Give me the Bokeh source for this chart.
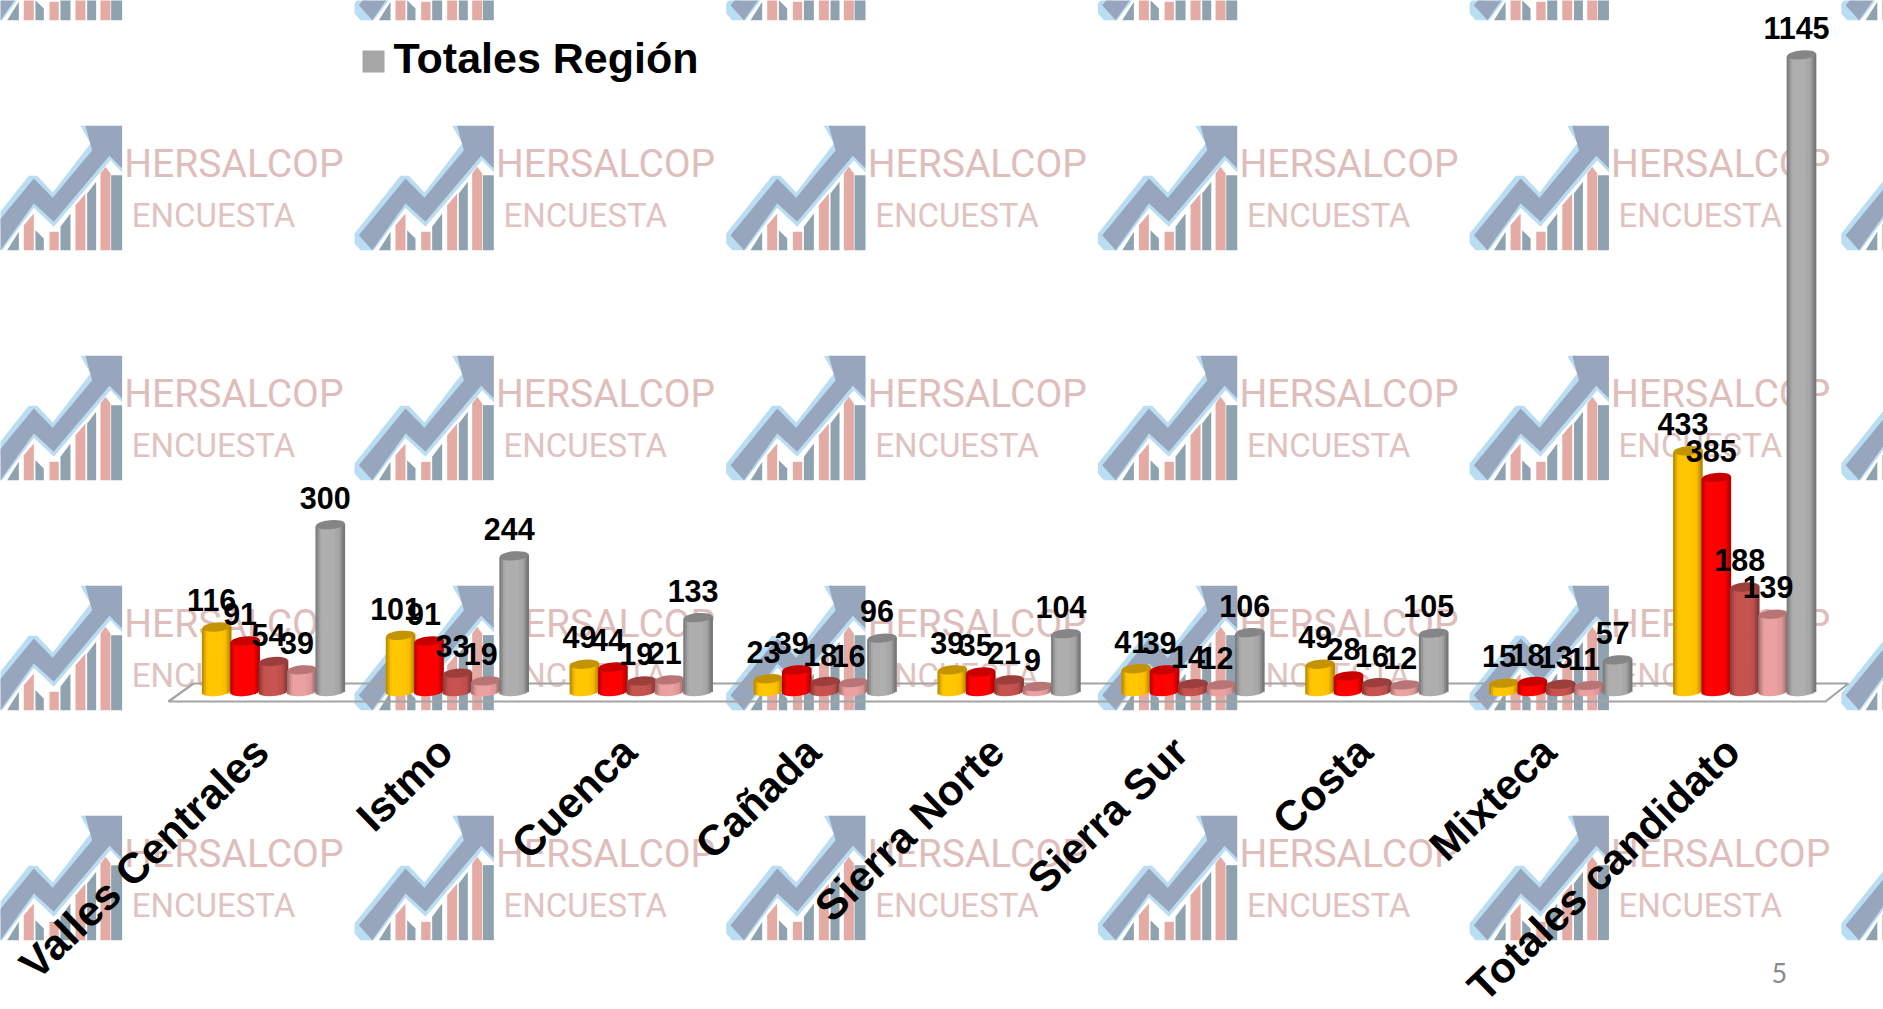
from bokeh.plotting import figure
from bokeh.embed import file_html
from bokeh.resources import INLINE
from bokeh.models import Range1d, LinearAxis, FixedTicker
from bokeh.core.properties import value
import math

categories = ["Valles Centrales", "Istmo", "Cuenca", "Cañada", "Sierra Norte",
              "Sierra Sur", "Costa", "Mixteca", "Totales candidato"]
serie_oro = [116, 101, 49, 23, 39, 41, 49, 15, 433]
serie_roja = [91, 91, 44, 39, 35, 39, 28, 18, 385]
serie_vino = [54, 33, 19, 18, 21, 14, 16, 13, 188]
serie_rosa = [39, 19, 21, 16, 9, 12, 12, 11, 139]
totales_region = [300, 244, 133, 96, 104, 106, 105, 57, 1145]
legend_label = "Totales Región"
page_number = "5"
watermark_lines = ["HERSALCOP", "ENCUESTA"]

series = [
    (serie_oro, (255, 192, 0), "#C49400"),
    (serie_roja, (255, 0, 0), "#C80000"),
    (serie_vino, (192, 80, 77), "#9C3F3C"),
    (serie_rosa, (226, 154, 155), "#B97576"),
    (totales_region, (168, 168, 168), "#858585"),
]

# layout (page pixels)
W, H = 1883, 1009
LEFT, TOP = 0, 0
X0, GROUP = 273.0, 183.9       # px of group centre 0, px per group
Y0, SCALE = 691.0, 0.556       # px of value 0, px per unit
STEP = 28.4 / GROUP            # bar spacing, in group units
BAR_PX = 29.0
RX = 14.5
RY = 4.5
TILT = 0.09
N_STRIPS = 15
BASE = 0.36                    # em correction of the text baseline

def shade(rgb, u):
    f = 0.66 + 0.34 * min(1.0, (1 - abs(u)) * 2.6)
    f = f * (1.04 if u < 0.35 else 1.0)
    return "#%02x%02x%02x" % tuple(min(255, int(c * f)) for c in rgb)

p = figure(width=W, height=H, output_backend="svg", toolbar_location=None,
           x_range=Range1d((LEFT - X0) / GROUP, (LEFT + W - X0) / GROUP),
           y_range=Range1d((Y0 - (TOP + H)) / SCALE, (Y0 - TOP) / SCALE),
           min_border=0, min_border_left=0, min_border_right=0,
           min_border_top=0, min_border_bottom=0,
           background_fill_color="white", border_fill_color="white",
           outline_line_color=None)
p.grid.visible = False
p.axis.visible = False
p.extra_x_ranges["px"] = Range1d(LEFT, LEFT + W)
p.extra_y_ranges["px"] = Range1d(TOP + H, TOP)
LABEL_SHIFT = 12 / GROUP
p.extra_x_ranges["cat"] = Range1d((LEFT - X0) / GROUP + LABEL_SHIFT, (LEFT + W - X0) / GROUP + LABEL_SHIFT)

# ---------- watermark tiles (logo + text), pixel coordinates ----------
BAND = [(25,350),(165,180),(222,238),(340,95),(320,22),(430,22),(430,150),(392,112),(225,310),(165,255),(65,395)]
EDGE = [(12,345),(150,172),(175,172),(222,222),(335,75),(305,22),(330,22),(360,70),(225,240),(170,195),(35,360),(65,395),(30,395),(12,375)]
EDGE2 = [(160,250),(225,308),(392,105),(430,150),(430,162),(395,125),(225,325),(165,268),(70,395),(60,395)]
SLATE = [[(85,395),(120,340),(120,395)], [(170,335),(195,360),(195,395),(170,395)],
         [(245,325),(275,285),(275,395),(245,395)], [(325,225),(352,190),(352,395),(325,395)],
         [(397,170),(430,170),(430,395),(397,395)]]
PINK = [[(135,320),(165,285),(165,395),(135,395)], [(212,340),(240,340),(240,395),(212,395)],
        [(290,260),(320,225),(320,395),(290,395)], [(365,165),(380,145),(395,165),(395,395),(365,395)]]
def tile_polys(polys, dx, dy):
    xs = [[350 + a / 3 + dx for a, _ in poly] for poly in polys]
    ys = [[118 + b / 3 + dy for _, b in poly] for poly in polys]
    return xs, ys

offs = [(k * 371.7, r * 230.0) for k in range(-1, 5) for r in range(-1, 4)]
for polys, col in (([EDGE, EDGE2], "#B9DDF2"), ([BAND], "#98A6BD"),
                   (SLATE, "#8FA2B0"), (PINK, "#E4ABA5")):
    X, Y = [], []
    for dx, dy in offs:
        a, b = tile_polys(polys, dx, dy)
        X += a; Y += b
    p.patches(X, Y, fill_color=col, line_color=None,
              x_range_name="px", y_range_name="px")
text_offs = [(k * 371.7, r * 230.0) for k in range(-1, 4) for r in range(0, 4)]
p.text([495.5 + dx for dx, _ in text_offs], [178 - BASE * 39 + dy for _, dy in text_offs],
       text=[watermark_lines[0]] * len(text_offs), text_font=value("Roboto"),
       text_font_size="39px", text_color="#DEBDBB", text_baseline="alphabetic",
       x_range_name="px", y_range_name="px")
p.text([503 + dx for dx, _ in text_offs], [227 - BASE * 33 + dy for _, dy in text_offs],
       text=[watermark_lines[1]] * len(text_offs), text_font=value("Roboto"),
       text_font_size="33px", text_color="#E0C3C1", text_baseline="alphabetic",
       x_range_name="px", y_range_name="px")

# ---------- floor ----------
p.line([193, 1848, 1825, 168, 193], [683, 683, 701, 701, 683], line_color="#A3A3A3",
       line_width=2.2, x_range_name="px", y_range_name="px")

# ---------- cylinders ----------
for j, (vals, rgb, top_col) in enumerate(series):
    xs, tops, bots, cols = [], [], [], []
    for i, v in enumerate(vals):
        cx = i + (j - 2) * STEP
        for s in range(N_STRIPS):
            u = -1 + (s + 0.5) * 2 / N_STRIPS
            xs.append(cx + u * RX / GROUP)
            tilt = TILT * u * RX / SCALE
            tops.append(v + tilt)
            bots.append(tilt - RY * math.sqrt(1 - u * u) / SCALE)
            cols.append(shade(rgb, u))
    p.vbar(x=xs, top=tops, bottom=bots, width=(BAR_PX / N_STRIPS + 0.7) / GROUP,
           fill_color=cols, line_color=None)
    cxs = [i + (j - 2) * STEP for i in range(len(vals))]
    p.ellipse(x=cxs, y=vals, width=BAR_PX, height=2 * RY, angle=TILT,
              width_units="screen", height_units="screen", angle_units="rad",
              fill_color=top_col, line_color=None)

# ---------- data labels ----------
for j, (vals, rgb, top_col) in enumerate(series):
    p.text(x=[i + (j - 2) * STEP for i in range(len(vals))], y=vals,
           text=[str(v) for v in vals], x_offset=-5, y_offset=-16 - BASE * 30,
           text_align="center", text_baseline="alphabetic",
           text_font=value("Liberation Sans"), text_font_style="bold",
           text_font_size="30.5px", text_color="black")

# ---------- legend (only the last entry is visible) ----------
p.quad(left=[362], right=[384], top=[50], bottom=[72], fill_color="#A6A6A6", line_color=None,
       x_range_name="px", y_range_name="px")
p.text([393], [73 - BASE * 43], text=[legend_label], text_font=value("Liberation Sans"), text_font_style="bold",
       text_font_size="43px", text_color="black", text_baseline="alphabetic",
       x_range_name="px", y_range_name="px")

# ---------- page number ----------
p.text([1771], [982 - BASE * 27], text=[page_number], text_font=value("Lato"), text_font_size="27px",
       text_color="#8A8A8A", text_baseline="alphabetic", x_range_name="px", y_range_name="px")

# ---------- category axis ----------
ax = LinearAxis(ticker=FixedTicker(ticks=list(range(len(categories)))),
                x_range_name="cat",
                major_label_overrides={i: c for i, c in enumerate(categories)},
                major_label_orientation=math.radians(44),
                major_label_text_font="Liberation Sans",
                major_label_text_font_style="bold",
                major_label_text_font_size="42.5px",
                major_label_text_color="black",
                major_tick_line_color=None, minor_tick_line_color=None,
                axis_line_color=None, major_label_standoff=0)
ax.fixed_location = (Y0 - 738) / SCALE
p.add_layout(ax, "below")

open("out.html", "w").write(file_html(p, INLINE))
